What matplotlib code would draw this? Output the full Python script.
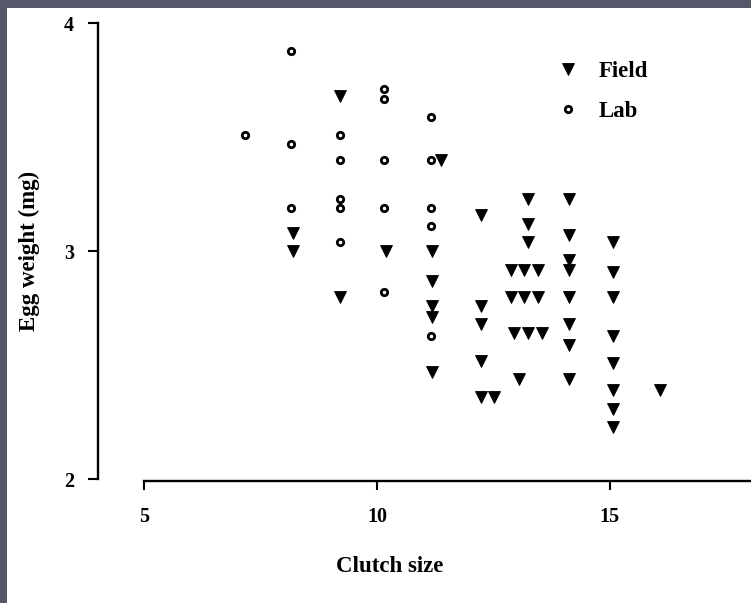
import matplotlib
matplotlib.use("Agg")
import matplotlib.pyplot as plt
from matplotlib.patches import Rectangle
from matplotlib.lines import Line2D

# ---- data ----
lab_x = [7.16, 8.16, 8.16, 8.16, 9.2, 9.2, 9.2, 9.2, 9.2,
         10.16, 10.16, 10.16, 10.16, 10.16,
         11.17, 11.17, 11.17, 11.17, 11.17]
lab_y = [3.51, 3.88, 3.47, 3.19, 3.51, 3.40, 3.23, 3.19, 3.04,
         3.71, 3.67, 3.40, 3.19, 2.82,
         3.59, 3.40, 3.19, 3.11, 2.63]

field_x = [8.2, 8.2, 9.2, 9.2, 10.2, 11.37,
           11.18, 11.18, 11.18, 11.18, 11.18,
           12.24, 12.24, 12.24, 12.24, 12.24, 12.52,
           13.24, 13.24, 13.24, 12.88, 13.17, 13.46, 12.88, 13.17, 13.46,
           12.95, 13.24, 13.54, 13.05,
           14.12, 14.12, 14.12, 14.12, 14.12, 14.12, 14.12, 14.12,
           15.08, 15.08, 15.08, 15.08, 15.08, 15.08, 15.08, 15.08,
           16.09]
field_y = [3.08, 3.00, 3.68, 2.80, 3.00, 3.40,
           3.00, 2.87, 2.76, 2.71, 2.47,
           3.16, 2.76, 2.68, 2.52, 2.36, 2.36,
           3.23, 3.12, 3.04, 2.92, 2.92, 2.92, 2.80, 2.80, 2.80,
           2.64, 2.64, 2.64, 2.44,
           3.23, 3.07, 2.96, 2.92, 2.80, 2.68, 2.59, 2.44,
           3.04, 2.91, 2.80, 2.63, 2.51, 2.39, 2.31, 2.23,
           2.39]

x_ticks = [5, 10, 15]
y_ticks = [2, 3, 4]
series_labels = ["Field", "Lab"]
x_label = "Clutch size"
y_label = "Egg weight (mg)"

# ---- figure ----
W, H = 751, 603
FONT = "Liberation Serif"
fig = plt.figure(figsize=(W / 100, H / 100), dpi=100, facecolor="#555869")
fig.patches.append(Rectangle((7 / W, 0), 1, (H - 8) / H, transform=fig.transFigure,
                             facecolor="white", edgecolor="none", zorder=-5))

left_px, right_px, bottom_px, top_px = 98.3, 751, 481, 15
ax = fig.add_axes([left_px / W, 1 - bottom_px / H,
                   (right_px - left_px) / W, (bottom_px - top_px) / H])
ax.set_facecolor("none")
ax.set_zorder(2)

px_per_x = (609.5 - 144.4) / 10
px_per_y = (479.3 - 23.3) / 2
xmin = 5 - (144.4 - left_px) / px_per_x
xmax = 5 + (right_px - 144.4) / px_per_x
ymin = 2 - (bottom_px - 479.3) / px_per_y
ymax = 4 + (23.3 - top_px) / px_per_y
ax.set_xlim(xmin, xmax)
ax.set_ylim(ymin, ymax)

TRI = dict(ls="none", marker="v", ms=8.4, color="black", mec="black", mew=0.6)
CIRC = dict(ls="none", marker="o", ms=4.6, mfc="white", mec="black", mew=2.0)

ax.plot(field_x, field_y, clip_on=False, **TRI)
ax.plot(lab_x, lab_y, clip_on=False, **CIRC)

for s in ("top", "right"):
    ax.spines[s].set_visible(False)
ax.spines["left"].set_bounds(2, 4)
ax.spines["bottom"].set_bounds(5, xmax)
ax.spines["left"].set_linewidth(1.7)
ax.spines["bottom"].set_linewidth(1.7)

ax.set_xticks(x_ticks)
ax.set_yticks(y_ticks)
ax.set_xticklabels([str(v) for v in x_ticks])
ax.set_yticklabels([str(v) for v in y_ticks])
ax.tick_params(axis="y", direction="out", length=7.5, width=1.5, pad=10)
ax.tick_params(axis="x", direction="out", length=6.5, width=1.5, pad=12)
for lab in ax.get_xticklabels() + ax.get_yticklabels():
    lab.set_fontfamily(FONT)
    lab.set_fontweight("bold")
    lab.set_fontsize(14.5)

ax.set_xlabel(x_label, fontfamily=FONT, fontweight="bold", fontsize=16.5)
ax.xaxis.set_label_coords(389.5 / W, 1 - 567 / H, transform=fig.transFigure)
ax.xaxis.label.set_va("center")
ax.set_ylabel(y_label, fontfamily=FONT, fontweight="bold", fontsize=16.5)
ax.yaxis.set_label_coords(29 / W, 1 - 251 / H, transform=fig.transFigure)
ax.yaxis.label.set_va("center")

handles = [Line2D([], [], **TRI), Line2D([], [], **CIRC)]
ax.legend(handles, series_labels, loc="center left",
          bbox_to_anchor=(557 / W, 1 - 91.5 / H), bbox_transform=fig.transFigure,
          frameon=False, borderpad=0, borderaxespad=0, handlelength=1.0,
          handletextpad=0.8, labelspacing=0.85,
          prop={"family": FONT, "weight": "bold", "size": 16.5})

fig.savefig("out.png", dpi=100, facecolor=fig.get_facecolor())
